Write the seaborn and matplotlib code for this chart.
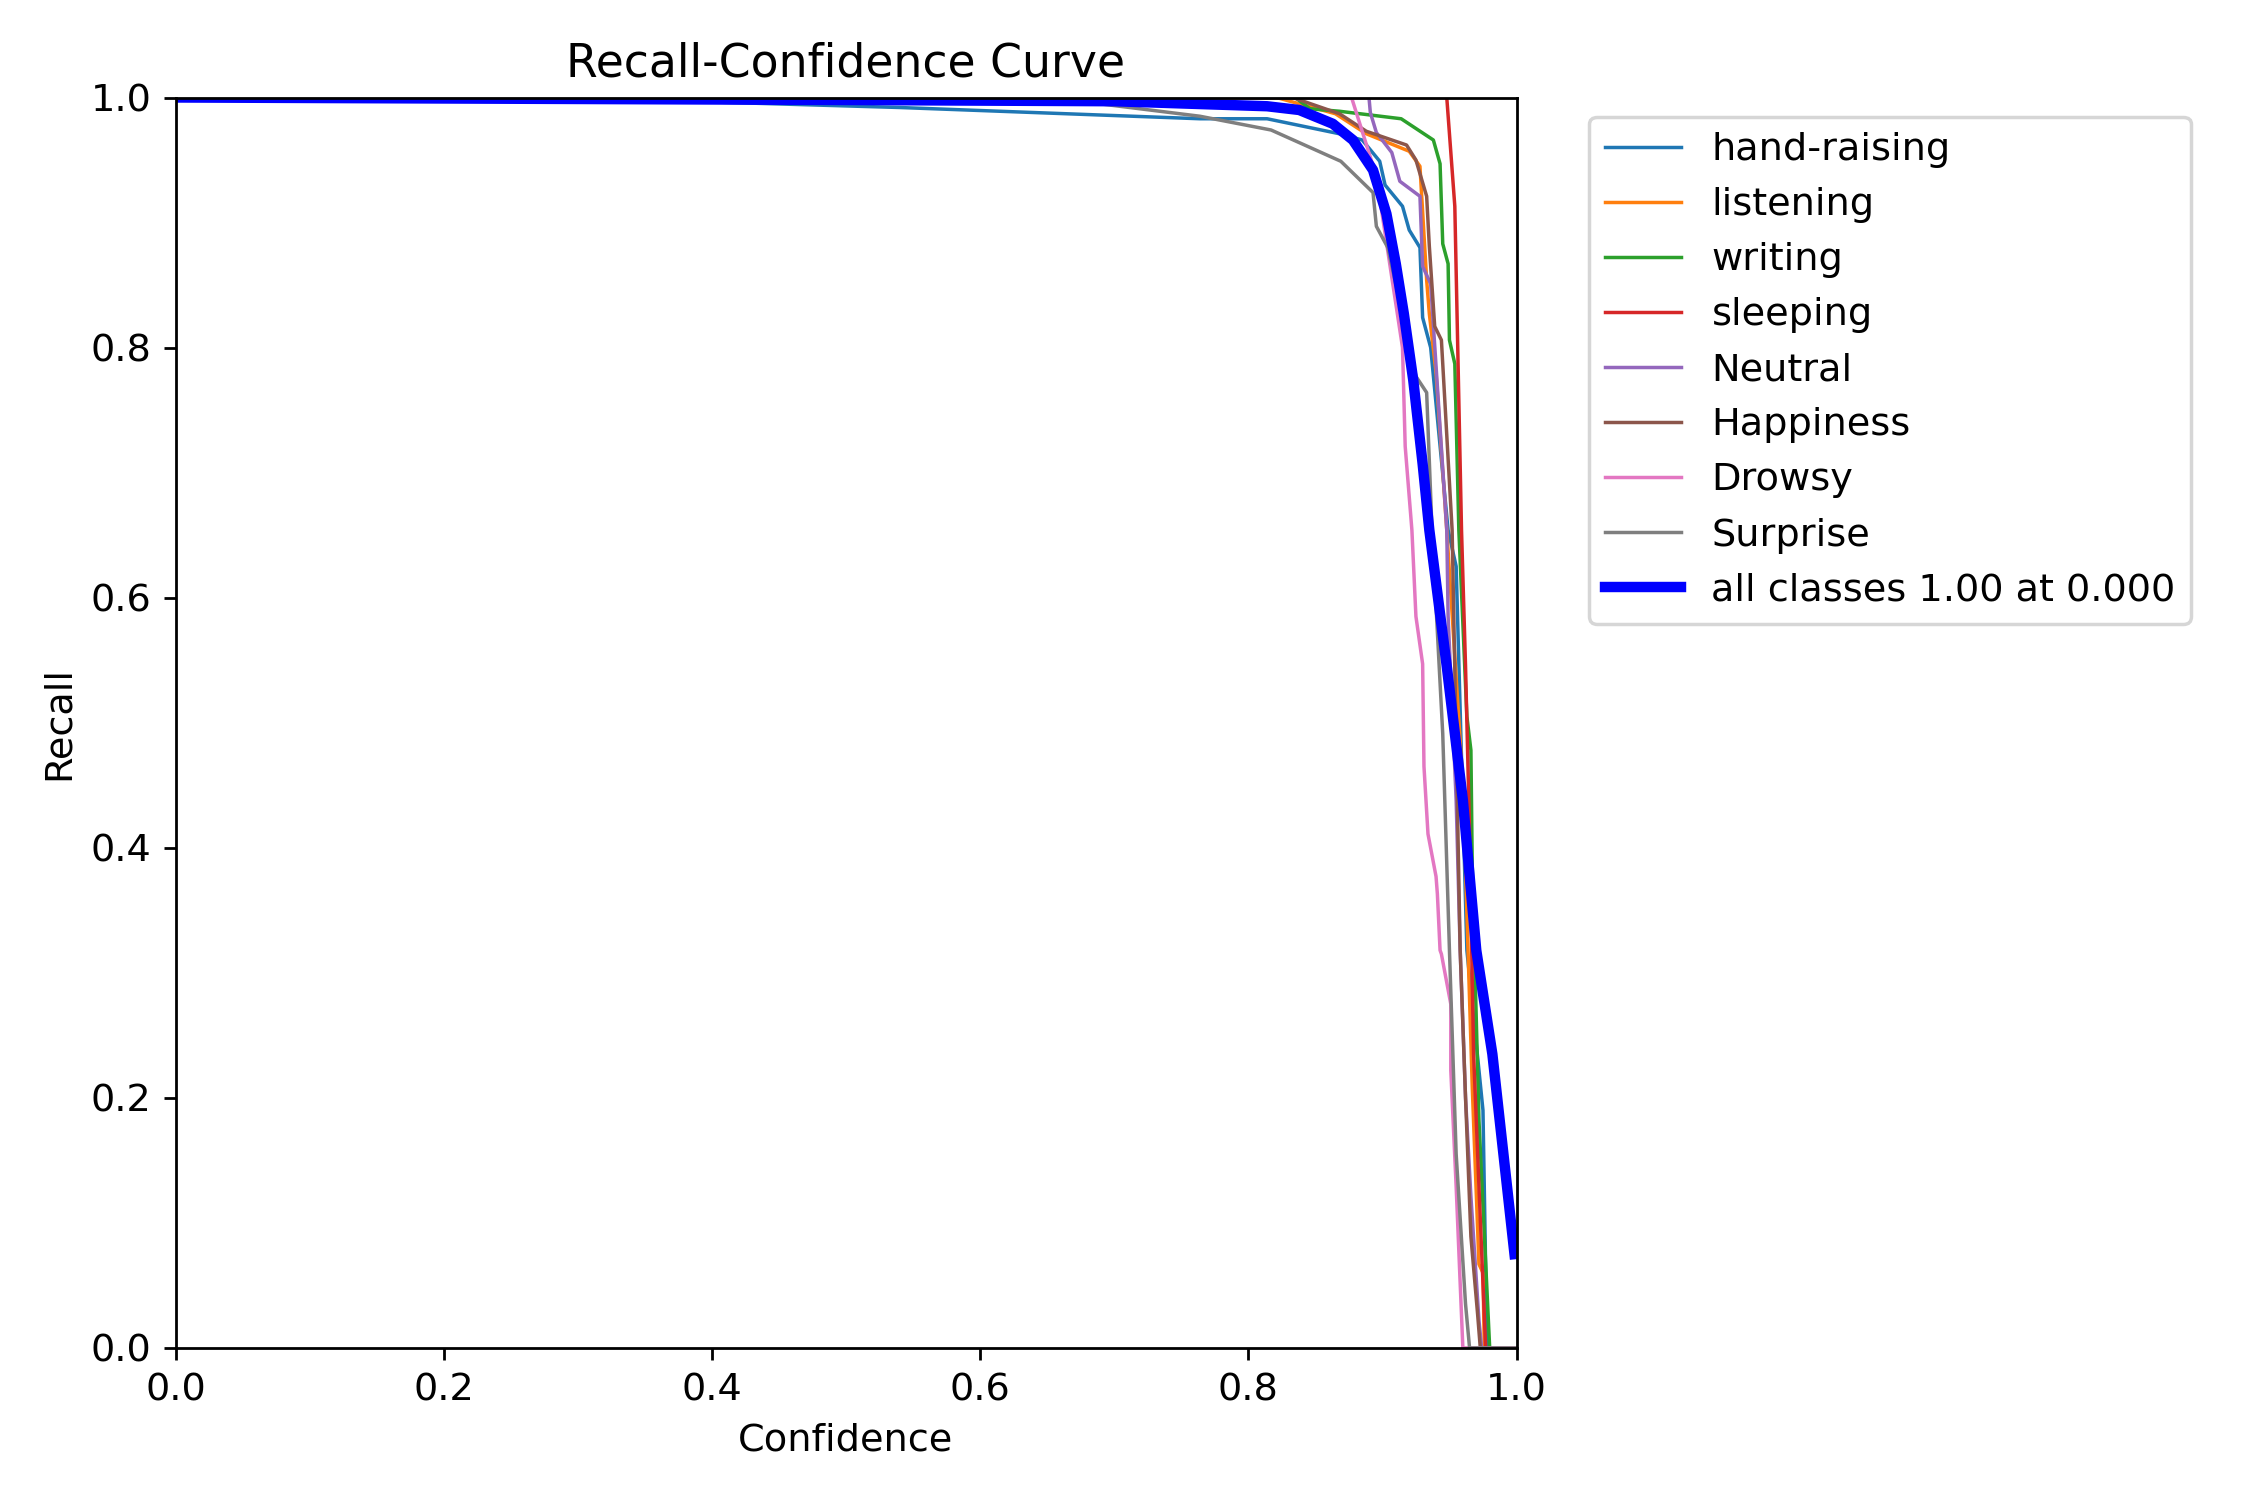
import matplotlib
matplotlib.use("Agg")
import matplotlib.pyplot as plt
import seaborn as sns
import pandas as pd

# recall vs confidence, knots
hand_x = [0.0, 0.35, 0.54, 0.764, 0.814, 0.868, 0.885, 0.898, 0.902, 0.915, 0.920, 0.928, 0.930, 0.936, 0.949, 0.955, 0.963, 0.975, 0.978, 1.0]
hand_y = [1.0, 0.998, 0.992, 0.983, 0.983, 0.971, 0.966, 0.949, 0.930, 0.913, 0.894, 0.880, 0.824, 0.800, 0.654, 0.625, 0.318, 0.190, 0.0, 0.0]

listen_x = [0.0, 0.821, 0.865, 0.888, 0.920, 0.928, 0.933, 0.935, 0.940, 0.948, 0.960, 0.967, 0.972, 0.975, 0.976, 1.0]
listen_y = [1.0, 1.0, 0.987, 0.971, 0.957, 0.945, 0.854, 0.827, 0.780, 0.654, 0.452, 0.209, 0.067, 0.060, 0.0, 0.0]

writing_x = [0.0, 0.835, 0.846, 0.868, 0.914, 0.938, 0.943, 0.945, 0.949, 0.950, 0.954, 0.957, 0.963, 0.966, 0.967, 0.972, 0.980, 1.0]
writing_y = [1.0, 1.0, 0.991, 0.989, 0.983, 0.966, 0.947, 0.883, 0.867, 0.806, 0.787, 0.654, 0.505, 0.478, 0.385, 0.182, 0.0, 0.0]

sleep_x = [0.0, 0.948, 0.954, 0.959, 0.962, 0.965, 0.968, 0.972, 0.977, 1.0]
sleep_y = [1.0, 1.0, 0.913, 0.654, 0.545, 0.412, 0.235, 0.129, 0.0, 0.0]

neutral_x = [0.0, 0.890, 0.891, 0.8955, 0.907, 0.913, 0.928, 0.930, 0.936, 0.948, 0.949, 0.955, 0.958, 0.962, 0.966, 0.972, 0.974, 1.0]
neutral_y = [1.0, 1.0, 0.988, 0.972, 0.956, 0.933, 0.921, 0.865, 0.851, 0.654, 0.585, 0.438, 0.318, 0.200, 0.121, 0.022, 0.0, 0.0]

happy_x = [0.0, 0.833, 0.868, 0.888, 0.918, 0.925, 0.933, 0.935, 0.939, 0.944, 0.952, 0.958, 0.962, 0.966, 0.971, 0.973, 1.0]
happy_y = [1.0, 1.0, 0.987, 0.973, 0.962, 0.950, 0.921, 0.881, 0.817, 0.806, 0.654, 0.318, 0.200, 0.089, 0.027, 0.0, 0.0]

drowsy_x = [0.0, 0.877, 0.8955, 0.915, 0.917, 0.922, 0.925, 0.930, 0.931, 0.934, 0.940, 0.941, 0.943, 0.944, 0.951, 0.951, 0.955, 0.960, 1.0]
drowsy_y = [1.0, 1.0, 0.937, 0.800, 0.721, 0.654, 0.585, 0.547, 0.465, 0.411, 0.377, 0.363, 0.318, 0.315, 0.275, 0.222, 0.129, 0.0, 0.0]

surprise_x = [0.0, 0.50, 0.689, 0.764, 0.817, 0.869, 0.893, 0.8955, 0.904, 0.925, 0.933, 0.937, 0.945, 0.950, 0.955, 0.962, 0.965, 1.0]
surprise_y = [1.0, 1.0, 0.995, 0.985, 0.974, 0.949, 0.924, 0.897, 0.880, 0.777, 0.764, 0.654, 0.491, 0.318, 0.155, 0.035, 0.0, 0.0]

all_x = [0.0, 0.50, 0.70, 0.814, 0.838, 0.863, 0.878, 0.893, 0.903, 0.910, 0.916, 0.923, 0.930, 0.935, 0.948, 0.960, 0.970, 0.982, 0.9985]
all_y = [1.0, 0.998, 0.997, 0.993, 0.990, 0.979, 0.966, 0.942, 0.907, 0.867, 0.827, 0.774, 0.707, 0.654, 0.545, 0.438, 0.318, 0.235, 0.075]

names = ["hand-raising", "listening", "writing", "sleeping", "Neutral", "Happiness", "Drowsy", "Surprise"]
xs = [hand_x, listen_x, writing_x, sleep_x, neutral_x, happy_x, drowsy_x, surprise_x]
ys = [hand_y, listen_y, writing_y, sleep_y, neutral_y, happy_y, drowsy_y, surprise_y]
colors = sns.color_palette("tab10", len(names))

plt.rcParams["font.size"] = 11

fig, ax = plt.subplots(figsize=(9, 6), dpi=250)
fig.subplots_adjust(left=0.078, right=0.674, bottom=0.1014, top=0.935)

for name, x, y, c in zip(names, xs, ys, colors):
    df = pd.DataFrame({"conf": x, "recall": y})
    sns.lineplot(data=df, x="conf", y="recall", ax=ax, color=c, linewidth=1,
                 label=name, estimator=None, sort=False)

df_all = pd.DataFrame({"conf": all_x, "recall": all_y})
sns.lineplot(data=df_all, x="conf", y="recall", ax=ax, color="blue", linewidth=3,
             label="all classes 1.00 at 0.000", estimator=None, sort=False)

ax.set_xlim(0, 1)
ax.set_ylim(0, 1)
ax.set_xlabel("Confidence")
ax.set_ylabel("Recall")
ax.set_title("Recall-Confidence Curve")
ax.legend(bbox_to_anchor=(1.04, 1), loc="upper left")

fig.savefig("out.png", dpi=250)
